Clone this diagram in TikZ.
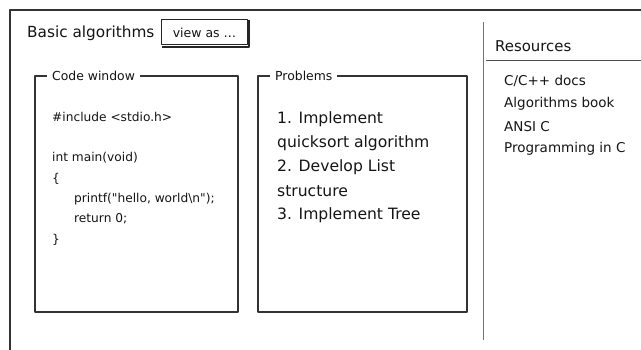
\documentclass[tikz,border=0pt]{standalone}
\usepackage{fontspec}
\setmainfont{DejaVu Sans}

\begin{document}
\begin{tikzpicture}
  [x=1pt,y=-1pt,line join=round,
   every node/.style={inner sep=0pt,text=black!92,anchor=west},
   frame/.style={draw=black!80,line width=1.4pt},
   boxtitle/.style={fill=white,inner xsep=5pt,inner ysep=2pt,font=\fontsize{12.4}{14}\selectfont},
   codeline/.style={font=\fontsize{12.2}{14}\selectfont},
   probline/.style={font=\fontsize{15.6}{18}\selectfont},
   resline/.style={font=\fontsize{13.5}{16}\selectfont}]
  \useasboundingbox (0,0) rectangle (641,350);

  % window
  \draw[frame] (10,350) -- (10,10) -- (641,10);
  \node[font=\fontsize{15.3}{18}\selectfont] (title) at (27,33) {Basic algorithms};
  \node[draw=black!85,line width=1pt,minimum width=86pt,minimum height=25pt,
        font=\fontsize{12.5}{14}\selectfont,anchor=west] (view) at (161,32.5) {view as \dots};
  \draw[black!85,line width=1.8pt] ([xshift=1.3pt,yshift=-1pt]view.north east) -- ([xshift=1.3pt,yshift=-1.3pt]view.south east)
    -- ([xshift=1pt,yshift=-1.3pt]view.south west);

  % code window
  \draw[frame] (35,76) rectangle (238,312);
  \node[boxtitle] (codettl) at (47,76) {Code window};
  \node[codeline] (inc) at (52,117) {\#include <stdio.h>};
  \node[codeline] (main) at (52,158) {int main(void)};
  \node[codeline] (lbr) at (52,179) {\{};
  \node[codeline] (pf) at (74,199) {printf(\textquotedbl hello, world\textbackslash n\textquotedbl);};
  \node[codeline] (ret) at (74,219) {return 0;};
  \node[codeline] (rbr) at (52,240) {\}};

  % problems
  \draw[frame] (258,76) rectangle (467,312);
  \node[boxtitle] (probttl) at (270,76) {Problems};
  \foreach \txt [count=\i] in {1. Implement, quicksort algorithm, 2. Develop List, structure, 3. Implement Tree}
    \node[probline] (prob\i) at (277,95+24*\i) {\txt};

  % resources
  \draw[black!55,line width=0.9pt] (483,22) -- (483,340);
  \node[font=\fontsize{14.9}{17}\selectfont] (res) at (495,46) {Resources};
  \draw[black!70,line width=0.9pt] (486,60) -- (641,60);
  \foreach \txt [count=\i] in {C/C++ docs, Algorithms book, ANSI C, Programming in C}
    \node[resline] (res\i) at (504,58+22.7*\i) {\txt};
\end{tikzpicture}
\end{document}
